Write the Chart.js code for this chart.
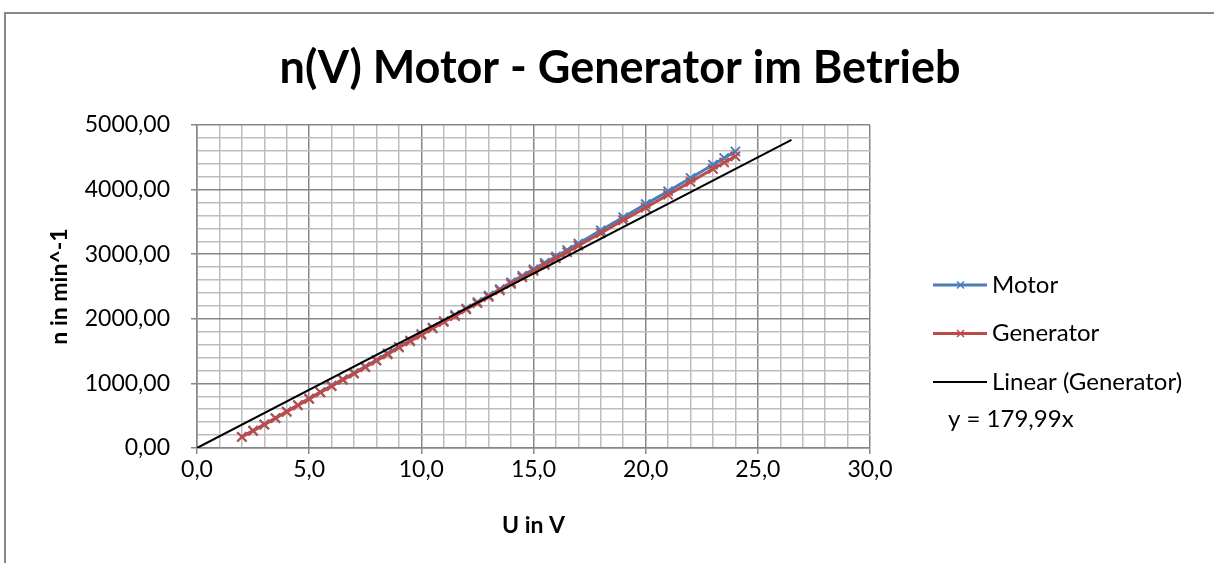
<!DOCTYPE html>
<html>
<head>
<meta charset="utf-8">
<script src="https://cdn.jsdelivr.net/npm/chart.js@4.4.1/dist/chart.umd.min.js"></script>
<style>
html, body { margin: 0; padding: 0; background: #fff; }
</style>
</head>
<body>
<canvas id="myChart" width="1214" height="563"></canvas>
<script>
// U in V
const voltage = [
    2, 2.5, 3, 3.5, 4, 4.5, 5, 5.5, 6, 6.5, 7, 7.5, 8, 8.5, 9, 9.5, 10, 10.5,
    11, 11.5, 12, 12.5, 13, 13.5, 14, 14.5, 15, 15.5, 16, 16.5, 17,
    18, 19, 20, 21, 22, 23, 23.5, 24
];
// n in min^-1
const motor = [
    175, 270, 365, 465, 565, 665, 765, 865, 965, 1065, 1160, 1260, 1360, 1465, 1565, 1665, 1765, 1865,
    1965, 2060, 2160, 2260, 2360, 2460, 2565, 2665, 2765, 2865, 2965, 3065, 3165,
    3370, 3570, 3775, 3975, 4180, 4385, 4490, 4590
];
const generator = [
    170, 265, 360, 460, 560, 660, 760, 860, 955, 1055, 1150, 1250, 1350, 1450, 1555, 1650, 1750, 1850,
    1950, 2040, 2145, 2240, 2340, 2440, 2540, 2640, 2740, 2835, 2935, 3030, 3130,
    3325, 3525, 3720, 3920, 4120, 4320, 4420, 4515
];
// trendline of Generator: y = 179,99x, drawn from 0 to 26.5 V
const trendSlope = 179.99;
const trendRange = [0, 26.5];

const seriesLabels = ["Motor", "Generator", "Linear (Generator)"];
const chartTitle = "n(V) Motor - Generator im Betrieb";

const toPoints = (ys) => voltage.map((v, i) => ({ x: v, y: ys[i] }));
const comma = (v, d) => v.toFixed(d).replace(".", ",");

const frame = {
    id: "frame",
    beforeDraw(chart) {
        const c = chart.ctx;
        c.save();
        c.fillStyle = "#fff";
        c.fillRect(0, 0, chart.width, chart.height);
        c.strokeStyle = "#878787";
        c.lineWidth = 2;
        c.strokeRect(5, 13, chart.width + 20, chart.height + 20);
        // title, centred over the whole chart object
        c.fillStyle = "#000";
        c.font = "bold 45px Lato";
        c.textAlign = "center";
        c.textBaseline = "middle";
        c.fillText(chartTitle, 620, 68);
        c.restore();
    }
};

const sideLegend = {
    id: "sideLegend",
    afterDraw(chart) {
        const c = chart.ctx;
        c.save();
        c.font = "24px Lato";
        c.textBaseline = "middle";
        chart.data.datasets.forEach((ds, i) => {
            const y = 285 + i * 48.5;
            c.strokeStyle = ds.borderColor;
            c.lineWidth = ds.borderWidth;
            c.beginPath();
            c.moveTo(933, y);
            c.lineTo(987, y);
            c.stroke();
            if (ds.pointRadius > 0) {
                c.lineWidth = 1.5;
                c.beginPath();
                c.moveTo(957, y - 3.5); c.lineTo(964, y + 3.5);
                c.moveTo(964, y - 3.5); c.lineTo(957, y + 3.5);
                c.stroke();
            }
            c.fillStyle = "#000";
            c.fillText(ds.label, 992, y);
        });
        c.fillText("y = " + comma(trendSlope, 2) + "x", 948, 419);
        c.restore();
    }
};

new Chart(document.getElementById("myChart"), {
    type: "scatter",
    data: {
        datasets: [
            {
                label: seriesLabels[0],
                data: toPoints(motor),
                showLine: true,
                borderColor: "#4a7ebb",
                backgroundColor: "#4a7ebb",
                borderWidth: 3,
                pointStyle: "crossRot",
                pointRadius: 6.5,
                pointBorderWidth: 2,
                order: 3
            },
            {
                label: seriesLabels[1],
                data: toPoints(generator),
                showLine: true,
                borderColor: "#be4b48",
                backgroundColor: "#be4b48",
                borderWidth: 3,
                pointStyle: "crossRot",
                pointRadius: 6.5,
                pointBorderWidth: 2,
                order: 2
            },
            {
                label: seriesLabels[2],
                data: trendRange.map(v => ({ x: v, y: trendSlope * v })),
                showLine: true,
                borderColor: "#000000",
                borderWidth: 2,
                pointRadius: 0,
                order: 1
            }
        ]
    },
    options: {
        responsive: false,
        animation: false,
        layout: { padding: { left: 0, right: 344, top: 125, bottom: 0 } },
        scales: {
            x: {
                type: "linear",
                min: 0,
                max: 30,
                afterFit: (s) => { s.height = 115; },
                ticks: {
                    stepSize: 1,
                    autoSkip: false,
                    maxRotation: 0,
                    padding: 2,
                    color: "#000",
                    font: { family: "Lato", size: 23 },
                    callback: (v) => (v % 5 === 0 ? comma(v, 1) : "")
                },
                grid: {
                    tickLength: 6,
                    color: (ctx) => (ctx.tick && ctx.tick.value % 5 === 0 ? "#878787" : "#bdbdbd"),
                    tickColor: (ctx) => (ctx.tick && ctx.tick.value % 5 === 0 ? "#878787" : "rgba(0,0,0,0)"),
                    lineWidth: 1.5
                },
                border: { color: "#878787", width: 1.5 },
                title: {
                    display: true,
                    text: "U in V",
                    color: "#000",
                    font: { family: "Lato", size: 23, weight: "bold" },
                    padding: { top: 0, bottom: 24 }
                }
            },
            y: {
                min: 0,
                max: 5000,
                afterFit: (s) => { s.width = 197; },
                ticks: {
                    stepSize: 200,
                    autoSkip: false,
                    padding: 21,
                    color: "#000",
                    font: { family: "Lato", size: 23 },
                    callback: (v) => (v % 1000 === 0 ? comma(v, 2) : "")
                },
                grid: {
                    tickLength: 6,
                    color: (ctx) => (ctx.tick && ctx.tick.value % 1000 === 0 ? "#878787" : "#bdbdbd"),
                    tickColor: (ctx) => (ctx.tick && ctx.tick.value % 1000 === 0 ? "#878787" : "rgba(0,0,0,0)"),
                    lineWidth: 1.5
                },
                border: { color: "#878787", width: 1.5 },
                title: {
                    display: true,
                    text: "n in min^-1",
                    color: "#000",
                    font: { family: "Lato", size: 23, weight: "bold" },
                    padding: { top: 46, bottom: 0 }
                }
            }
        },
        plugins: {
            legend: { display: false },
            tooltip: { enabled: false },
            title: { display: false }
        }
    },
    plugins: [frame, sideLegend]
});
</script>
</body>
</html>
